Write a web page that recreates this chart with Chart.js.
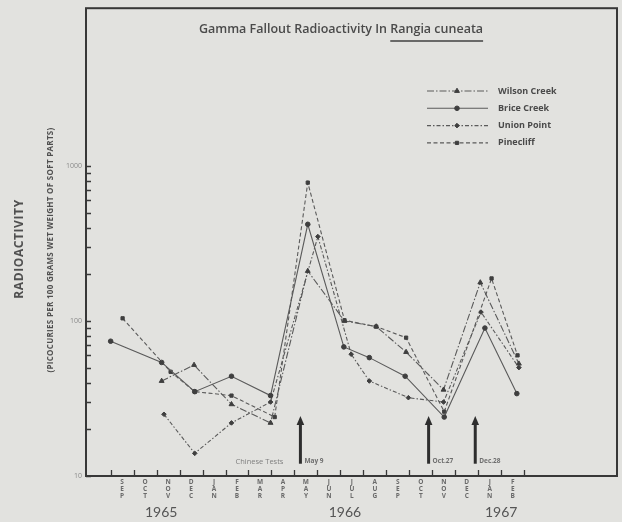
<!DOCTYPE html>
<html>
<head>
<meta charset="utf-8">
<script src="https://cdn.jsdelivr.net/npm/chart.js@4.4.1/dist/chart.umd.min.js"></script>
<style>
  html, body { margin: 0; padding: 0; background: #e2e2df; }
  canvas { display: block; }
</style>
</head>
<body>
<canvas id="chart" width="622" height="522"></canvas>
<script>
// Time axis: months counted from 1 September 1965 (0 = start of Sep 1965)
const monthLabels = ['SEP','OCT','NOV','DEC','JAN','FEB','MAR','APR','MAY','JUN','JUL','AUG','SEP','OCT','NOV','DEC','JAN','FEB'];
const yearLabels = ['1965', '1966', '1967'];
const yearMonths = [2.2, 10.2, 17.0];
const yTickValues = [10, 100, 1000];

// Sampling dates (months) and radioactivity (pCi per 100 g wet weight of soft parts)
const wilsonMonths = [2.22, 3.63, 5.26, 6.96, 8.58, 10.18, 11.56, 12.86, 14.49, 16.09, 17.77];
const wilsonValues = [41, 52, 29, 22, 210, 100, 92, 63, 36, 177, 53];

const briceMonths = [0.00, 2.22, 3.66, 5.26, 6.96, 8.58, 10.15, 11.26, 12.82, 14.52, 16.29, 17.68];
const briceValues = [74, 54, 35, 44, 33, 420, 68, 58, 44, 24, 90, 34];

const unionMonths = [2.32, 3.66, 5.26, 6.96, 9.02, 10.47, 11.26, 12.96, 14.49, 16.12, 17.77];
const unionValues = [25, 14, 22, 30, 350, 61, 41, 32, 30, 114, 50];

const pinecliffMonths = [0.52, 2.61, 3.66, 5.26, 7.14, 8.58, 10.18, 11.56, 12.86, 14.52, 16.58, 17.71];
const pinecliffValues = [104, 47, 35, 33, 24, 780, 101, 92, 78, 26, 188, 60];

// Chinese nuclear tests
const testLabels = ['May 9', 'Oct.27', 'Dec.28'];
const testMonths = [8.26, 13.84, 15.87];

const INK = '#3f3f3f';
const LINE = '#5a5a5a';
const FONT = '"Open Sans", "DejaVu Sans", sans-serif';

function pts(xs, ys) { return xs.map((x, i) => ({ x: x, y: ys[i] })); }

function series(label, xs, ys, dash, style) {
  return {
    label: label,
    data: pts(xs, ys),
    borderColor: LINE,
    borderWidth: 1.1,
    borderDash: dash,
    pointStyle: style,
    pointRadius: style === 'triangle' ? 2.8 : 2.3,
    pointBackgroundColor: INK,
    pointBorderColor: INK,
    pointBorderWidth: 1,
    fill: false,
    tension: 0
  };
}

const datasets = [
  series('Wilson Creek', wilsonMonths, wilsonValues, [7, 2, 1.5, 2], 'triangle'),
  series('Brice Creek', briceMonths, briceValues, [], 'circle'),
  series('Union Point', unionMonths, unionValues, [4, 2, 1.5, 2], 'rectRot'),
  series('Pinecliff', pinecliffMonths, pinecliffValues, [4, 2.5], 'rect')
];

const decor = {
  id: 'decor',
  beforeDraw(chart) {
    const ctx = chart.ctx;
    ctx.save();
    ctx.fillStyle = '#e2e2df';
    ctx.fillRect(0, 0, chart.width, chart.height);
    ctx.restore();
  },
  afterDraw(chart) {
    const ctx = chart.ctx;
    const a = chart.chartArea;
    const xs = chart.scales.x;
    const ys = chart.scales.y;
    ctx.save();

    // frame
    ctx.strokeStyle = '#383838';
    ctx.lineWidth = 2;
    ctx.strokeRect(a.left, a.top, a.right - a.left, a.bottom - a.top);

    // month tick marks (inside)
    ctx.lineWidth = 1.3;
    ctx.beginPath();
    for (let m = 0; m <= monthLabels.length; m++) {
      const px = Math.round(xs.getPixelForValue(m)) + 0.5;
      ctx.moveTo(px, a.bottom);
      ctx.lineTo(px, a.bottom - 6);
    }
    ctx.stroke();

    // log tick marks (inside)
    ctx.beginPath();
    [10, 100].forEach(d => {
      for (let k = 1; k <= 9; k++) {
        const py = Math.round(ys.getPixelForValue(d * k)) + 0.5;
        ctx.moveTo(a.left, py);
        ctx.lineTo(a.left + 5, py);
      }
    });
    const p1000 = Math.round(ys.getPixelForValue(1000)) + 0.5;
    ctx.moveTo(a.left, p1000);
    ctx.lineTo(a.left + 5, p1000);
    ctx.stroke();

    // years
    ctx.fillStyle = '#555555';
    ctx.font = '14px Lato, ' + FONT;
    ctx.textAlign = 'center';
    ctx.textBaseline = 'middle';
    yearLabels.forEach((t, i) => ctx.fillText(t, xs.getPixelForValue(yearMonths[i]), 512));

    // y axis titles
    ctx.fillStyle = '#505050';
    ctx.save();
    ctx.translate(20, 249);
    ctx.rotate(-Math.PI / 2);
    ctx.font = 'bold 12px ' + FONT;
    ctx.letterSpacing = '0.6px';
    ctx.fillText('RADIOACTIVITY', 0, 0);
    ctx.restore();
    ctx.save();
    ctx.translate(51, 250);
    ctx.rotate(-Math.PI / 2);
    ctx.font = 'bold 8px ' + FONT;
    ctx.letterSpacing = '0.3px';
    ctx.fillText('(PICOCURIES PER 100 GRAMS WET WEIGHT OF SOFT PARTS)', 0, 0);
    ctx.restore();

    // chart title with underlined species name
    const t1 = 'Gamma Fallout Radioactivity In ';
    const t2 = 'Rangia cuneata';
    ctx.font = '600 12.5px ' + FONT;
    ctx.textBaseline = 'alphabetic';
    ctx.textAlign = 'left';
    const w1 = ctx.measureText(t1).width;
    const w2 = ctx.measureText(t2).width;
    const tx = 341 - (w1 + w2) / 2;
    ctx.fillStyle = '#4a4a4a';
    ctx.fillText(t1, tx, 33);
    ctx.fillText(t2, tx + w1, 33);
    ctx.strokeStyle = '#404040';
    ctx.lineWidth = 1.6;
    ctx.beginPath();
    ctx.moveTo(tx + w1, 41);
    ctx.lineTo(tx + w1 + w2, 41);
    ctx.stroke();

    // legend
    chart.data.datasets.forEach((ds, i) => {
      const ly = 91 + i * 17.3;
      ctx.strokeStyle = ds.borderColor;
      ctx.lineWidth = 1.1;
      ctx.setLineDash(ds.borderDash);
      ctx.beginPath();
      ctx.moveTo(427, ly);
      ctx.lineTo(488, ly);
      ctx.stroke();
      ctx.setLineDash([]);
      ctx.fillStyle = INK;
      ctx.strokeStyle = INK;
      ctx.lineWidth = 1;
      Chart.helpers.drawPoint(ctx, { pointStyle: ds.pointStyle, radius: ds.pointRadius, rotation: 0, borderWidth: 1 }, 457, ly);
      ctx.fillStyle = '#4a4a4a';
      ctx.font = 'bold 9px ' + FONT;
      ctx.textBaseline = 'middle';
      ctx.fillText(ds.label, 498, ly);
    });

    // test arrows
    const yTop = ys.getPixelForValue(24);
    const yBot = ys.getPixelForValue(12);
    testMonths.forEach((m, i) => {
      const px = xs.getPixelForValue(m);
      ctx.strokeStyle = '#2e2e2e';
      ctx.fillStyle = '#2e2e2e';
      ctx.lineWidth = 3;
      ctx.beginPath();
      ctx.moveTo(px, yBot);
      ctx.lineTo(px, yTop + 6);
      ctx.stroke();
      ctx.beginPath();
      ctx.moveTo(px, yTop - 1);
      ctx.lineTo(px - 3.8, yTop + 8);
      ctx.lineTo(px + 3.8, yTop + 8);
      ctx.closePath();
      ctx.fill();
      ctx.fillStyle = '#6e6e6e';
      ctx.font = 'bold 6.5px ' + FONT;
      ctx.textAlign = 'left';
      ctx.textBaseline = 'middle';
      ctx.fillText(testLabels[i], px + 4, yBot - 3);
    });
    ctx.fillStyle = '#808080';
    ctx.font = '7.5px ' + FONT;
    ctx.textAlign = 'right';
    ctx.fillText('Chinese Tests', xs.getPixelForValue(testMonths[0]) - 17, ys.getPixelForValue(12) - 2);

    ctx.restore();
  }
};

new Chart(document.getElementById('chart'), {
  type: 'line',
  data: { datasets: datasets },
  options: {
    responsive: false,
    animation: false,
    devicePixelRatio: 1,
    layout: { padding: { top: 6, right: 4, left: 0, bottom: 0 } },
    plugins: { legend: { display: false }, tooltip: { enabled: false } },
    scales: {
      x: {
        type: 'linear',
        min: -1.073,
        max: 22.04,
        grid: { display: false, drawTicks: false },
        border: { display: false },
        afterBuildTicks: ax => { ax.ticks = monthLabels.map((_, i) => ({ value: i + 0.5 })); },
        ticks: {
          autoSkip: false,
          maxRotation: 0,
          padding: 3,
          color: '#6a6a6a',
          font: { size: 6.5, weight: 'bold', family: FONT, lineHeight: 1.08 },
          callback: (v, i) => monthLabels[i].split('')
        },
        afterFit: s => { s.height = 46; }
      },
      y: {
        type: 'logarithmic',
        min: 10,
        max: 10400,
        grid: { display: false, drawTicks: false },
        border: { display: false },
        afterBuildTicks: ax => { ax.ticks = yTickValues.map(v => ({ value: v })); },
        ticks: {
          padding: 4,
          color: '#8a8a8a',
          font: { size: 7, family: FONT },
          callback: v => String(v)
        },
        afterFit: s => { s.width = 86; }
      }
    }
  },
  plugins: [decor]
});
</script>
</body>
</html>
